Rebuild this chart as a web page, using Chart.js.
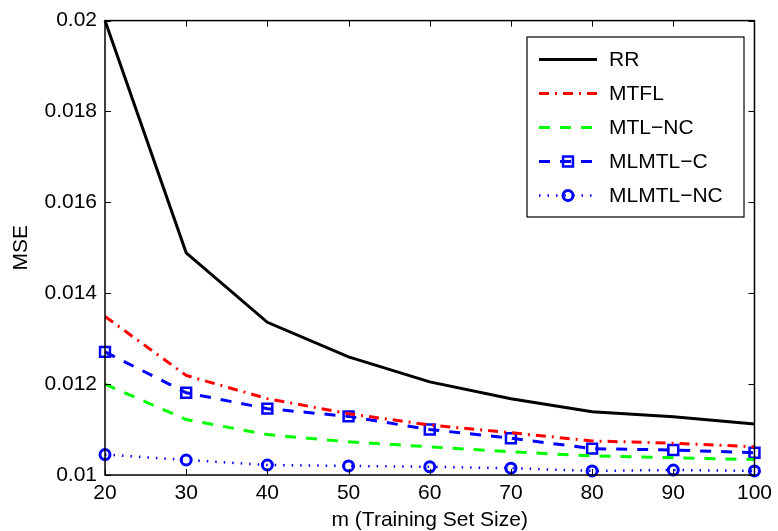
<!DOCTYPE html>
<html>
<head>
<meta charset="utf-8">
<script src="https://cdn.jsdelivr.net/npm/chart.js@4/dist/chart.umd.min.js"></script>
<style>
  html, body { margin: 0; padding: 0; background: #fff; }
  #wrap { width: 778px; height: 531px; }
</style>
</head>
<body>
<div id="wrap"><canvas id="chart" width="778" height="531"></canvas></div>
<script>
const trainSizes = [20, 30, 40, 50, 60, 70, 80, 90, 100];
const rr      = [0.0200, 0.01489, 0.01336, 0.01260, 0.01205, 0.01168, 0.01139, 0.01128, 0.01112];
const mtfl    = [0.01349, 0.01219, 0.01168, 0.01135, 0.01110, 0.01093, 0.01075, 0.01070, 0.01062];
const mtlNc   = [0.01200, 0.01122, 0.01089, 0.01073, 0.01062, 0.01051, 0.01042, 0.01038, 0.01034];
const mlmtlC  = [0.01271, 0.01181, 0.01146, 0.01129, 0.01100, 0.01081, 0.01058, 0.01055, 0.01049];
const mlmtlNc = [0.01045, 0.01033, 0.01022, 0.01020, 0.01018, 0.01015, 0.01009, 0.01011, 0.01009];
const seriesNames = ['RR', 'MTFL', 'MTL\u2212NC', 'MLMTL\u2212C', 'MLMTL\u2212NC'];
const xTicks = [20, 30, 40, 50, 60, 70, 80, 90, 100];
const yTicks = [0.01, 0.012, 0.014, 0.016, 0.018, 0.02];

const FONT = '"Liberation Sans", Arial, Helvetica, sans-serif';

function pts(vals) {
    return trainSizes.map((x, i) => ({ x: x, y: vals[i] }));
}

// box, inward ticks and the legend, drawn MATLAB style
const matlabFrame = {
    id: 'matlabFrame',
    afterDatasetsDraw(chart) {
        const ctx = chart.ctx;
        const a = chart.chartArea;
        const xs = chart.scales.x, ys = chart.scales.y;
        ctx.save();
        ctx.strokeStyle = '#000';
        ctx.lineWidth = 1;
        xTicks.forEach(v => {
            const px = Math.round(xs.getPixelForValue(v)) + 0.5;
            ctx.beginPath();
            ctx.moveTo(px, a.bottom); ctx.lineTo(px, a.bottom - 6);
            ctx.moveTo(px, a.top); ctx.lineTo(px, a.top + 6);
            ctx.stroke();
        });
        yTicks.forEach(v => {
            const py = Math.round(ys.getPixelForValue(v)) + 0.5;
            ctx.beginPath();
            ctx.moveTo(a.left, py); ctx.lineTo(a.left + 6, py);
            ctx.moveTo(a.right, py); ctx.lineTo(a.right - 6, py);
            ctx.stroke();
        });
        ctx.lineWidth = 1.5;
        ctx.strokeRect(a.left, a.top, a.right - a.left, a.bottom - a.top);

        // legend
        const lx = 527, ly = 37, lw = 217, lh = 180;
        ctx.fillStyle = '#fff';
        ctx.fillRect(lx, ly, lw, lh);
        ctx.lineWidth = 1.2;
        ctx.strokeRect(lx, ly, lw, lh);
        ctx.font = '21px ' + FONT;
        ctx.textBaseline = 'middle';
        ctx.textAlign = 'left';
        chart.data.datasets.forEach((ds, i) => {
            const y = 59.5 + i * 34;
            ctx.save();
            ctx.strokeStyle = ds.borderColor;
            ctx.lineWidth = ds.borderWidth;
            ctx.setLineDash(ds.borderDash || []);
            ctx.beginPath();
            ctx.moveTo(539, y); ctx.lineTo(597, y);
            ctx.stroke();
            ctx.restore();
            if (ds.pointRadius > 0) {
                ctx.save();
                ctx.fillStyle = 'rgba(0,0,0,0)';
                ctx.strokeStyle = ds.pointBorderColor;
                ctx.lineWidth = ds.pointBorderWidth;
                ctx.setLineDash([]);
                Chart.helpers.drawPoint(ctx, {
                    pointStyle: ds.pointStyle,
                    radius: ds.pointRadius,
                    borderWidth: ds.pointBorderWidth,
                    rotation: 0
                }, 568, y);
                ctx.restore();
            }
            ctx.fillStyle = '#000';
            ctx.fillText(ds.label, 609, y + 1);
        });
        ctx.restore();
    }
};

new Chart(document.getElementById('chart').getContext('2d'), {
    type: 'line',
    data: {
        datasets: [
            {
                label: seriesNames[0], data: pts(rr),
                borderColor: '#000', borderWidth: 3, pointRadius: 0, clip: false
            },
            {
                label: seriesNames[1], data: pts(mtfl),
                borderColor: '#ff0000', borderWidth: 3, borderDash: [10, 6, 2, 6],
                pointRadius: 0, clip: false
            },
            {
                label: seriesNames[2], data: pts(mtlNc),
                borderColor: '#00ff00', borderWidth: 3, borderDash: [11, 10],
                pointRadius: 0, clip: false
            },
            {
                label: seriesNames[3], data: pts(mlmtlC),
                borderColor: '#0000ff', borderWidth: 3, borderDash: [11, 10],
                pointStyle: 'rect', pointRadius: 7, pointBorderWidth: 2.5,
                pointBackgroundColor: 'rgba(0,0,0,0)', pointBorderColor: '#0000ff',
                clip: false
            },
            {
                label: seriesNames[4], data: pts(mlmtlNc),
                borderColor: '#0000ff', borderWidth: 2.5, borderDash: [1.5, 7],
                pointStyle: 'circle', pointRadius: 5, pointBorderWidth: 3,
                pointBackgroundColor: 'rgba(0,0,0,0)', pointBorderColor: '#0000ff',
                clip: false
            }
        ]
    },
    options: {
        responsive: false,
        animation: false,
        events: [],
        layout: { padding: { top: 19, right: 18, left: 0, bottom: 0 } },
        elements: { line: { tension: 0 } },
        plugins: {
            legend: { display: false },
            tooltip: { enabled: false }
        },
        scales: {
            x: {
                type: 'linear', min: 20, max: 100,
                afterBuildTicks(scale) { scale.ticks = xTicks.map(v => ({ value: v })); },
                afterFit(scale) { scale.height = 56; },
                grid: { display: false, drawTicks: false },
                border: { display: false },
                ticks: { padding: 6, color: '#000', font: { family: FONT, size: 21, lineHeight: 1.2 } },
                title: {
                    display: true, text: 'm (Training Set Size)', color: '#000',
                    padding: { top: 0, bottom: 0 },
                    font: { family: FONT, size: 21, lineHeight: 1 }
                }
            },
            y: {
                type: 'linear', min: 0.01, max: 0.02,
                afterBuildTicks(scale) { scale.ticks = yTicks.map(v => ({ value: v })); },
                afterFit(scale) { scale.width = 105; },
                grid: { display: false, drawTicks: false },
                border: { display: false },
                ticks: {
                    padding: 8, color: '#000',
                    font: { family: FONT, size: 21, lineHeight: 1.2 },
                    callback: v => String(+v.toFixed(3))
                },
                title: {
                    display: true, text: 'MSE', color: '#000',
                    padding: { top: 11, bottom: 0 },
                    font: { family: FONT, size: 21, lineHeight: 1 }
                }
            }
        }
    },
    plugins: [matlabFrame]
});
</script>
</body>
</html>
